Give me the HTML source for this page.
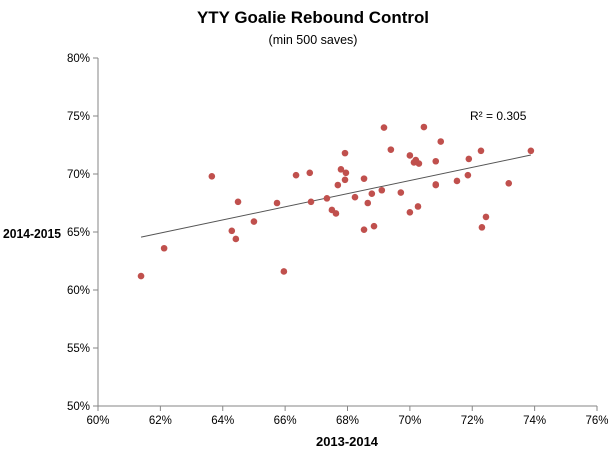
<!DOCTYPE html>
<html><head><meta charset="utf-8"><style>
body{margin:0;background:#fff;font-family:"Liberation Sans",sans-serif;}
svg text{font-family:"Liberation Sans",sans-serif;fill:#000;}
</style></head><body>
<svg id="c" width="615" height="451">
<text x="313" y="23" text-anchor="middle" font-size="17" font-weight="bold" textLength="232" lengthAdjust="spacingAndGlyphs">YTY Goalie Rebound Control</text>
<text x="313" y="44" text-anchor="middle" font-size="12.5">(min 500 saves)</text>
<text x="347" y="446" text-anchor="middle" font-size="12.5" font-weight="bold" textLength="62" lengthAdjust="spacingAndGlyphs">2013-2014</text>
<text x="470" y="120" font-size="12">R² = 0.305</text>
<g id="axes"></g><g id="trend"></g><g id="pts"></g>
<text x="3" y="238" font-size="12.5" font-weight="bold" textLength="58" lengthAdjust="spacingAndGlyphs">2014-2015</text>
</svg>
<script>
const xTicks=[60,62,64,66,68,70,72,74,76];
const yTicks=[50,55,60,65,70,75,80];
const xVals=[61.38,62.12,63.65,64.29,64.49,64.42,65.0,65.74,65.96,66.35,66.79,66.83,67.34,67.5,67.63,67.69,67.79,67.92,67.95,67.92,68.24,68.53,68.53,68.65,68.78,68.85,69.1,69.17,69.39,69.71,70.0,70.13,70.19,70.29,70.0,70.26,70.45,70.83,70.83,70.83,70.99,71.51,71.86,71.89,72.28,72.31,72.44,73.17,73.88];
const yVals=[61.2,63.6,69.8,65.1,67.6,64.4,65.9,67.5,61.6,69.9,70.1,67.6,67.9,66.9,66.6,69.05,70.4,71.8,70.1,69.5,68.0,69.6,65.2,67.5,68.3,65.5,68.6,74.0,72.1,68.4,71.6,71.0,71.2,70.9,66.7,67.2,74.05,71.1,69.05,69.1,72.8,69.4,69.9,71.3,72.0,65.4,66.3,69.2,72.0];
const X=v=>98+(v-60)*(499/16), Y=v=>406-(v-50)*(348/30);
const NS='http://www.w3.org/2000/svg';
function mk(t,a,p){const e=document.createElementNS(NS,t);for(const k in a)e.setAttribute(k,a[k]);p.appendChild(e);return e;}
const ax=document.getElementById('axes');
let l=mk('line',{x1:98,y1:Y(80),x2:98,y2:406,stroke:'#868686'},ax);


l=mk('line',{x1:98,y1:406,x2:X(76),y2:406,stroke:'#868686'},ax);


yTicks.forEach(v=>{mk('line',{x1:93,y1:Y(v),x2:98,y2:Y(v),stroke:'#868686'},ax);
const t=mk('text',{x:90,y:Y(v)+4,'text-anchor':'end','font-size':'11.5'},ax);t.textContent=v+'%';

});
xTicks.forEach(v=>{mk('line',{x1:X(v),y1:406,x2:X(v),y2:411,stroke:'#868686'},ax);
const t=mk('text',{x:X(v),y:424,'text-anchor':'middle','font-size':'11.5'},ax);t.textContent=v+'%';

});
const n=xVals.length;let mx=0,my=0;xVals.forEach((v,i)=>{mx+=v;my+=yVals[i];});mx/=n;my/=n;
let sxy=0,sxx=0;xVals.forEach((v,i)=>{sxy+=(v-mx)*(yVals[i]-my);sxx+=(v-mx)*(v-mx);});
const b=sxy/sxx,a=my-b*mx;const x0=Math.min(...xVals),x1=Math.max(...xVals);
l=mk('line',{x1:X(x0),y1:Y(a+b*x0),x2:X(x1),y2:Y(a+b*x1),stroke:'#555','stroke-width':1},document.getElementById('trend'));


const pg=document.getElementById('pts');
xVals.forEach((v,i)=>{const c=mk('circle',{cx:X(v),cy:Y(yVals[i]),r:3.3,fill:'#c0504d'},pg);

});
</script>
</body></html>
